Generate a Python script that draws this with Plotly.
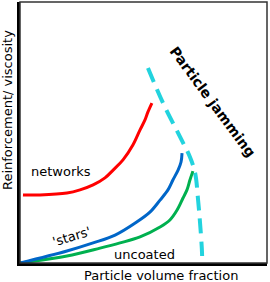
import plotly.graph_objects as go

# Data in axis units (x: 0-100 particle volume fraction, y: 0-100 reinforcement)
networks_x = [1.2, 8.1, 19.0, 24.3, 29.6, 34.4, 37.7, 41.7, 45.7, 48.6, 50.6, 51.8, 53.4]
networks_y = [26.1, 26.1, 26.8, 28.0, 29.9, 32.6, 35.6, 39.5, 45.2, 51.0, 54.8, 57.9, 61.3]

stars_x = [0, 19.0, 29.6, 38.5, 46.6, 52.6, 56.7, 59.9, 61.9, 64.0, 65.2, 65.6]
stars_y = [0, 4.6, 7.7, 10.7, 15.3, 19.5, 24.1, 28.0, 31.8, 35.6, 38.7, 42.1]

uncoated_x = [0, 19.0, 32.4, 40.5, 48.6, 56.7, 60.7, 63.6, 66.0, 67.6, 68.8, 70.0]
uncoated_y = [0, 2.7, 5.7, 7.7, 10.0, 13.8, 16.5, 20.3, 24.9, 28.0, 31.8, 35.2]

jam_x = [51.8, 57.9, 64.8, 68.8, 70.9, 72.1, 72.9, 73.7, 73.7]
jam_y = [74.7, 61.3, 48.3, 40.6, 34.5, 24.1, 15.3, 3.8, 0]

labels = ["networks", "'stars'", "uncoated", "Particle jamming"]
label_x = [16.4, 21.0, 50.6, 78.1]
label_y = [35.0, 10.3, 3.4, 61.7]

FONT = "DejaVu Sans"

fig = go.Figure()
fig.add_trace(go.Scatter(x=jam_x, y=jam_y, mode="lines",
                         line=dict(color="#22d3de", width=4, dash="15px,8px", shape="spline"),
                         hoverinfo="skip"))
fig.add_trace(go.Scatter(x=networks_x, y=networks_y, mode="lines",
                         line=dict(color="#ff0000", width=3, shape="spline"), hoverinfo="skip"))
fig.add_trace(go.Scatter(x=uncoated_x, y=uncoated_y, mode="lines",
                         line=dict(color="#00b04f", width=3, shape="spline"), hoverinfo="skip"))
fig.add_trace(go.Scatter(x=stars_x, y=stars_y, mode="lines",
                         line=dict(color="#0066c8", width=3, shape="spline"), hoverinfo="skip"))

angles = [0, -17, 0, 53.5]
sizes = [13, 13, 13, 14]
bold = [False, False, False, True]
for t, x, y, a, s, b in zip(labels, label_x, label_y, angles, sizes, bold):
    fig.add_annotation(x=x, y=y, text=f"<b>{t}</b>" if b else t, showarrow=False,
                       textangle=a, font=dict(family=FONT, size=s, color="black"))

fig.add_annotation(xref="paper", yref="paper", x=0.571, y=0, yshift=-12,
                   xanchor="center", yanchor="middle", borderpad=0,
                   text="Particle volume fraction", showarrow=False,
                   font=dict(family=FONT, size=13, color="black"))
fig.add_annotation(xref="paper", yref="paper", x=0, y=0.586, xshift=-13,
                   xanchor="center", yanchor="middle", borderpad=0,
                   text="Reinforcement/ viscosity", showarrow=False, textangle=-90,
                   font=dict(family=FONT, size=13, color="black"))

fig.add_shape(type="rect", xref="paper", yref="paper", x0=0, y0=0, x1=1, y1=1,
              line=dict(color="#333333", width=1.5))

fig.update_xaxes(range=[0, 100], showgrid=False, zeroline=False, showticklabels=False,
                 ticks="", showline=True, linecolor="black", linewidth=2.5)
fig.update_yaxes(range=[0, 100], showgrid=False, zeroline=False, showticklabels=False,
                 ticks="", showline=True, linecolor="black", linewidth=2.5)

fig.update_layout(width=270, height=282, margin=dict(l=20, r=3, t=2, b=19),
                  paper_bgcolor="white", plot_bgcolor="white", showlegend=False,
                  font=dict(family=FONT))

fig.write_html("out.html", config={"displayModeBar": False},
               post_script="document.body.style.margin='0';document.body.style.overflow='hidden';")
